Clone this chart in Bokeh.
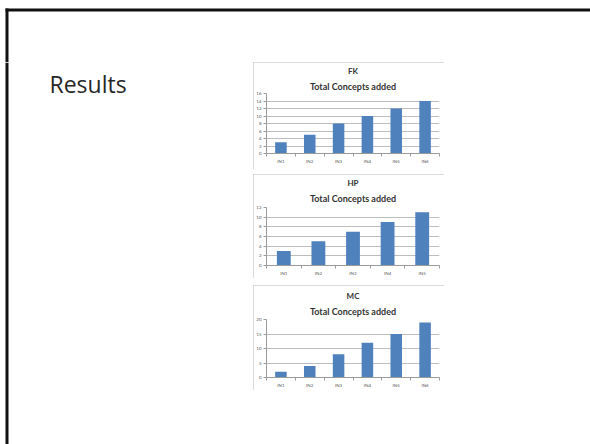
import numpy as np
from bokeh.plotting import figure
from bokeh.layouts import row, column
from bokeh.models import Range1d, FixedTicker, Title
from bokeh.core.properties import value
from bokeh.embed import file_html
from bokeh.resources import INLINE

# Concepts added per iteration, one panel per subject
fk_cats = ["IN1", "IN2", "IN3", "IN4", "IN5", "IN6"]
fk_vals = [3, 5, 8, 10, 12, 14]

hp_cats = ["IN1", "IN2", "IN3", "IN4", "IN5"]
hp_vals = [3, 5, 7, 9, 11]

mc_cats = ["IN1", "IN2", "IN3", "IN4", "IN5", "IN6"]
mc_vals = [2, 4, 8, 12, 15, 19]

panel_titles = ["FK", "HP", "MC"]
subtitle = "Total Concepts added"
heading = "Results"

BAR = "#4F81BD"
GRID = "#bdbdbd"
AXIS = "#9a9a9a"
LABEL = "#595959"


def blank(width, height):
    p = figure(width=width, height=height, x_range=Range1d(0, width),
               y_range=Range1d(height, 0), output_backend="svg",
               toolbar_location=None, title_location=None,
               x_axis_location=None, y_axis_location=None,
               min_border=0)
    p.grid.visible = False
    p.outline_line_color = None
    p.background_fill_color = "white"
    p.border_fill_color = "white"
    return p


def bar_panel(name, cats, vals, ymax, ystep, height, frame_top, frame_bottom,
              sub_gap, title_gap):
    n = len(cats)
    xs = [float(v) for v in np.arange(n) + 0.5]
    p = figure(width=191, height=height, x_range=Range1d(0, n),
               y_range=Range1d(0, ymax), output_backend="svg",
               toolbar_location=None, title_location=None,
               min_border_left=12, min_border_right=5,
               min_border_top=frame_top,
               min_border_bottom=height - frame_bottom,
               styles={"outline": "1px solid #cfcfcf", "outline-offset": "-1px"})
    p.outline_line_color = None
    p.background_fill_color = "white"
    p.border_fill_color = "white"

    p.vbar(x=xs, top=vals, width=0.4, fill_color=BAR, line_color=None)

    # titles stack outward: subtitle nearest the plot area
    p.add_layout(Title(text=subtitle, align="center", offset=-7, standoff=sub_gap,
                       text_font="Lato", text_font_size="9px",
                       text_font_style="bold", text_color="#333333"), "above")
    p.add_layout(Title(text=name, align="center", offset=-7, standoff=title_gap,
                       text_font="Lato", text_font_size="8px",
                       text_font_style="bold", text_color="#333333"), "above")

    yt = list(range(0, ymax + 1, ystep))
    p.yaxis.ticker = FixedTicker(ticks=yt)
    p.yaxis.axis_line_color = AXIS
    p.yaxis.major_tick_line_color = AXIS
    p.yaxis.major_tick_out = 3
    p.yaxis.major_tick_in = 0
    p.yaxis.minor_tick_line_color = None
    p.yaxis.minor_tick_out = 0
    p.yaxis.major_label_standoff = 2
    p.yaxis.major_label_text_font = "Lato"
    p.yaxis.major_label_text_font_size = "4.5px"
    p.yaxis.major_label_text_color = LABEL

    p.xaxis.ticker = FixedTicker(ticks=xs, minor_ticks=list(range(n + 1)))
    p.xaxis.major_label_overrides = {x: c for x, c in zip(xs, cats)}
    p.xaxis.axis_line_color = AXIS
    p.xaxis.major_tick_line_color = None
    p.xaxis.major_tick_out = 0
    p.xaxis.major_tick_in = 0
    p.xaxis.minor_tick_line_color = AXIS
    p.xaxis.minor_tick_out = 3
    p.xaxis.minor_tick_in = 0
    p.xaxis.major_label_standoff = 2
    p.xaxis.major_label_text_font = "Lato"
    p.xaxis.major_label_text_font_size = "4.5px"
    p.xaxis.major_label_text_color = LABEL

    p.xgrid.visible = False
    p.ygrid.ticker = FixedTicker(ticks=yt)
    p.ygrid.grid_line_color = GRID
    return p


# slide frame: top strip, then left text column beside the charts
top = blank(590, 62)
top.quad(left=[5], right=[590], top=[8], bottom=[11], fill_color="#111111", line_color=None)
top.quad(left=[5], right=[8], top=[8], bottom=[62], fill_color="#111111", line_color=None)

left = blank(253, 382)
left.quad(left=[5], right=[8], top=[0], bottom=[382], fill_color="#111111", line_color=None)
left.text(x=[49], y=[21], text=[heading], text_font=value("Open Sans"),
          text_font_size="23px", text_color="#262626", text_baseline="alphabetic")

fk = bar_panel(panel_titles[0], fk_cats, fk_vals, 16, 2, 107, 31, 91, 4, 1)
hp = bar_panel(panel_titles[1], hp_cats, hp_vals, 12, 2, 104, 33, 91, 7, 0)
mc = bar_panel(panel_titles[2], mc_cats, mc_vals, 20, 5, 105, 34, 92, 6, 0)
hp.margin = (5, 0, 0, 0)
mc.margin = (7, 0, 0, 0)

charts = column(fk, hp, mc, spacing=0)
layout = column(top, row(left, charts, spacing=0), spacing=0)

open("out.html", "w").write(file_html(layout, INLINE))
